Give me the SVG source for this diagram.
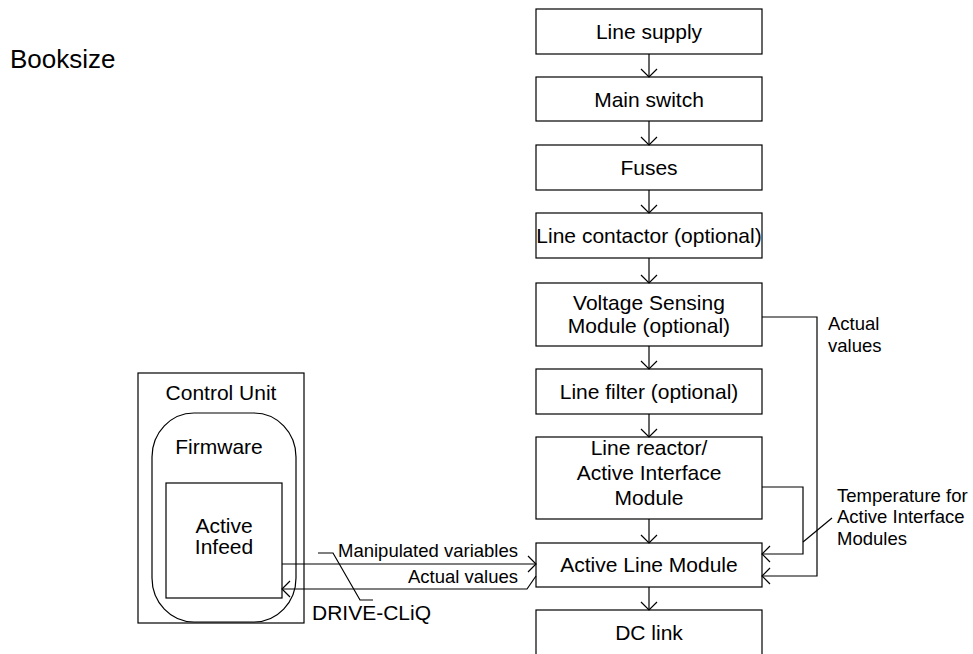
<svg xmlns="http://www.w3.org/2000/svg" width="973" height="654" viewBox="0 0 973 654">
<style>
text{font-family:"Liberation Sans",Arial,sans-serif;fill:#000}
.b{font-size:21px;text-anchor:middle}
.s{font-size:18.5px}
.box{fill:#fff;stroke:#000;stroke-width:1.2}
.ln{fill:none;stroke:#000;stroke-width:1.2}
</style>
<defs>
<marker id="ah" viewBox="-10 -10 12 20" refX="0" refY="0" markerWidth="12" markerHeight="20" markerUnits="userSpaceOnUse" orient="auto">
<path d="M-8,-8 L0,0 L-8,8" fill="none" stroke="#000" stroke-width="1.2"/>
</marker>
</defs>
<rect width="973" height="654" fill="#fff"/>
<text x="10" y="68" style="font-size:26px">Booksize</text>

<g id="control-unit">
<rect class="box" x="138" y="373" width="166" height="250"/>
<text class="b" x="221" y="399.5">Control Unit</text>
</g>
<g id="firmware">
<rect class="box" x="152" y="413" width="144" height="209" rx="42" ry="44"/>
<text class="b" x="219" y="454">Firmware</text>
</g>
<g id="active-infeed">
<rect class="box" x="166" y="483" width="116" height="115"/>
<text class="b" x="224" y="533">Active</text>
<text class="b" x="224" y="554">Infeed</text>
</g>

<g id="line-supply"><rect class="box" x="536" y="9" width="226" height="45"/><text class="b" x="649" y="39">Line supply</text></g>
<g id="main-switch"><rect class="box" x="536" y="77" width="226" height="44"/><text class="b" x="649" y="106.5">Main switch</text></g>
<g id="fuses"><rect class="box" x="536" y="145" width="226" height="45"/><text class="b" x="649" y="175">Fuses</text></g>
<g id="line-contactor"><rect class="box" x="536" y="213" width="226" height="45"/><text class="b" x="649" y="243">Line contactor (optional)</text></g>
<g id="vsm"><rect class="box" x="536" y="283" width="226" height="63"/><text class="b" x="649" y="310">Voltage Sensing</text><text class="b" x="649" y="333">Module (optional)</text></g>
<g id="line-filter"><rect class="box" x="536" y="369" width="226" height="45"/><text class="b" x="649" y="399">Line filter (optional)</text></g>
<g id="line-reactor"><rect class="box" x="536" y="437" width="226" height="82"/><text class="b" x="649" y="455">Line reactor/</text><text class="b" x="649" y="480">Active Interface</text><text class="b" x="649" y="505">Module</text></g>
<g id="alm"><rect class="box" x="536" y="543" width="226" height="44"/><text class="b" x="649" y="572">Active Line Module</text></g>
<g id="dc-link"><rect class="box" x="536" y="610" width="226" height="60"/><text class="b" x="649" y="640">DC link</text></g>

<g id="connectors">
<line class="ln" x1="649" y1="54" x2="649" y2="77" marker-end="url(#ah)"/>
<line class="ln" x1="649" y1="121" x2="649" y2="145" marker-end="url(#ah)"/>
<line class="ln" x1="649" y1="190" x2="649" y2="213" marker-end="url(#ah)"/>
<line class="ln" x1="649" y1="258" x2="649" y2="283" marker-end="url(#ah)"/>
<line class="ln" x1="649" y1="346" x2="649" y2="369" marker-end="url(#ah)"/>
<line class="ln" x1="649" y1="414" x2="649" y2="437" marker-end="url(#ah)"/>
<line class="ln" x1="649" y1="519" x2="649" y2="543" marker-end="url(#ah)"/>
<line class="ln" x1="649" y1="587" x2="649" y2="610" marker-end="url(#ah)"/>
<path class="ln" d="M762,317 H817 V576 H762" marker-end="url(#ah)"/>
<path class="ln" d="M762,487 H803 V554 H762" marker-end="url(#ah)"/>
<line class="ln" x1="282" y1="564" x2="536" y2="564" marker-end="url(#ah)"/>
<path class="ln" d="M536,576 L527,589 H282" marker-end="url(#ah)"/>
<line class="ln" x1="832" y1="518" x2="803" y2="542"/>
<path class="ln" d="M318,553 H333 L360,600 H373"/>
</g>

<text class="s" x="338" y="557">Manipulated variables</text>
<text class="s" x="518" y="583" text-anchor="end">Actual values</text>
<text x="312" y="620" style="font-size:21px">DRIVE-CLiQ</text>
<text class="s" x="828" y="330">Actual</text>
<text class="s" x="828" y="352">values</text>
<text class="s" x="837" y="502">Temperature for</text>
<text class="s" x="837" y="523">Active Interface</text>
<text class="s" x="837" y="545">Modules</text>
</svg>
